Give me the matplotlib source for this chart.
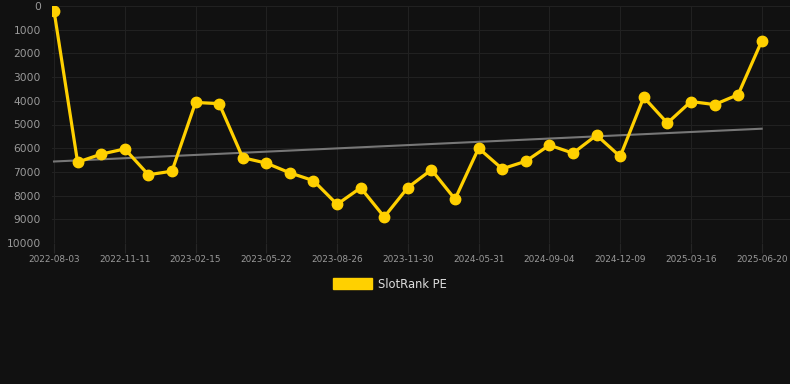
import numpy as np
import matplotlib
matplotlib.use('Agg')
import matplotlib.pyplot as plt

dates = ["2022-08-03", "", "", "2022-11-11", "", "", "2023-02-15", "", "", "2023-05-22",
         "", "", "2023-08-26", "", "", "2023-11-30", "", "", "2024-05-31", "", "",
         "2024-09-04", "", "", "2024-12-09", "", "", "2025-03-16", "", "", "2025-06-20"]
rank = [200, 6590, 6250, 6030, 7120, 6970, 4070, 4120, 6400, 6630,
        7040, 7370, 8370, 7670, 8900, 7660, 6910, 8150, 6000, 6870,
        6550, 5870, 6210, 5450, 6350, 3850, 4940, 4030, 4160, 3740, 1480]

bg = "#111111"
yellow = "#FFD000"
x = np.arange(len(rank))
trend = np.polyval(np.polyfit(x, rank, 1), x)

fig = plt.figure(figsize=(7.9, 3.84), dpi=100, facecolor=bg)
ax = fig.add_axes([52 / 790, 1 - 243 / 384, 1 - 52 / 790, 237 / 384])
ax.set_facecolor(bg)

ax.plot(x, trend, color="#777777", lw=1.5, zorder=2)
ax.plot(x, rank, color=yellow, lw=2.3, marker="o", ms=7.5, zorder=3, label="SlotRank PE")

ax.set_ylim(10000, 0)
ax.set_yticks(np.arange(0, 10001, 1000))
ax.set_xlim(-0.085, 31.2)
tick_idx = [i for i, d in enumerate(dates) if d]
ax.set_xticks(tick_idx)
ax.set_xticklabels([dates[i] for i in tick_idx])

ax.grid(True, color="#212121", lw=0.8)
for s in ax.spines.values():
    s.set_visible(False)
ax.tick_params(axis="y", length=0, pad=8, labelcolor="#9a9a9a", labelsize=7.7)
ax.tick_params(axis="x", length=7, color="#262626", pad=2, labelcolor="#9a9a9a", labelsize=6.4)

leg = fig.legend(handles=[plt.Rectangle((0, 0), 1, 1, color=yellow)], labels=["SlotRank PE"],
                 loc="center", bbox_to_anchor=(390 / 790, 1 - 284 / 384), frameon=False,
                 handlelength=3.4, handleheight=1.0, handletextpad=0.5,
                 fontsize=8.3, labelcolor="#dddddd")

fig.savefig("out.png", dpi=100, facecolor=bg)
